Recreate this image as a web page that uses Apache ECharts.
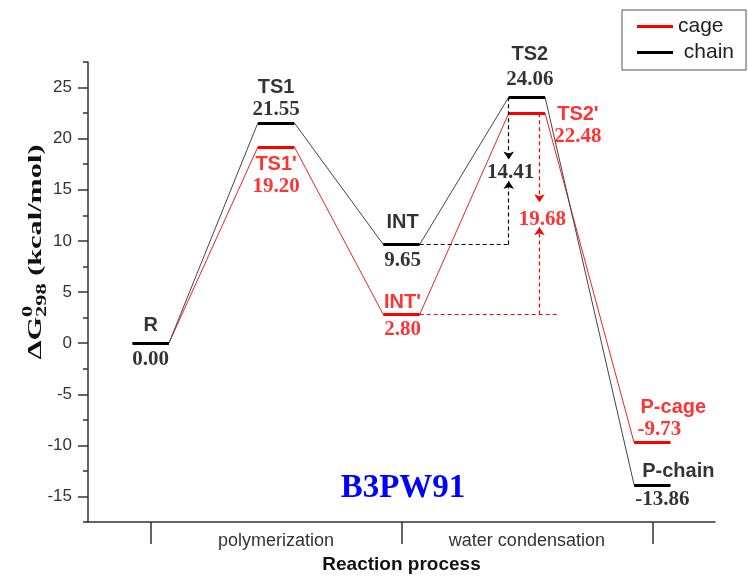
<!DOCTYPE html>
<html><head><meta charset="utf-8">
<script src="https://cdn.jsdelivr.net/npm/echarts@6/dist/echarts.min.js"></script>
<style>html,body{margin:0;padding:0;background:#fff}#c{width:748px;height:579px}</style>
</head><body><div id="c"></div>
<script>
// ---------- data ----------
const stagePos = [1, 2, 3, 4, 5];
const chainNames = ['R', 'TS1', 'INT', 'TS2', 'P-chain'];
const cageNames = ['R', "TS1'", "INT'", "TS2'", 'P-cage'];
const chainValues = [0.00, 21.55, 9.65, 24.06, -13.86];
const cageValues = [0.00, 19.20, 2.80, 22.48, -9.73];
const yMajorTicks = [-15, -10, -5, 0, 5, 10, 15, 20, 25];
const yMinorTicks = [-17.5, -12.5, -7.5, -2.5, 2.5, 7.5, 12.5, 17.5, 22.5, 27.5];
const xTickValues = [1, 3, 5];
const xLabelValues = [2, 4];
const xLabels = ['polymerization', 'water condensation'];
const chainBarrier = 14.41; // INT -> TS2
const cageBarrier = 19.68;  // INT' -> TS2'

// ---------- styling constants ----------
const H = 0.145; // half width of a level
const SANS = 'Liberation Sans', SERIF = 'Liberation Serif';
const RED = '#ff0000', BLACK = '#000000';

function levelCoords(vals, from) {
  const out = [];
  for (let i = from; i < vals.length; i++) out.push({coords: [[stagePos[i] - H, vals[i]], [stagePos[i] + H, vals[i]]]});
  return out;
}
function pathPoints(vals) {
  const out = [];
  vals.forEach((v, i) => { out.push([stagePos[i] - H, v]); out.push([stagePos[i] + H, v]); });
  return out;
}
// label offsets [dx,dy] in pixels relative to level centre
const chainLabelOff = [
  {n: [0, -18], v: [0, 16]},
  {n: [0, -35], v: [0, -13]},
  {n: [1, -22], v: [1, 16]},
  {n: [3, -43], v: [3, -18]},
  {n: [26, -13], v: [10, 15]}
];
const cageLabelOff = [
  null,
  {n: [0, 18], v: [0, 40]},
  {n: [1, -12], v: [1, 15]},
  {n: [51, 1], v: [51, 23]},
  {n: [21, -35], v: [7, -13]}
];
function labelItems(names, vals, offs, color) {
  const items = [];
  vals.forEach((v, i) => {
    const o = offs[i];
    if (!o) return;
    items.push({value: [stagePos[i], v], label: {formatter: names[i], offset: o.n, color, fontFamily: SANS, fontWeight: 'bold', fontSize: 20}});
    items.push({value: [stagePos[i], v], label: {formatter: v.toFixed(2), offset: o.v, color, fontFamily: SERIF, fontWeight: 'bold', fontSize: 21}});
  });
  return items;
}

// barrier arrows (INT -> TS2)
const chainArrowX = stagePos[3] - H;
const cageArrowX = stagePos[3] + 0.1;
const cageHorizEnd = stagePos[3] + 0.25;
const chainMid = (chainValues[2] + chainValues[3]) / 2;
const cageMid = (cageValues[2] + cageValues[3]) / 2;

const chart = echarts.init(document.getElementById('c'), null, {renderer: 'canvas'});

// y-axis name measured
const cvs = document.createElement('canvas').getContext('2d');
function tw(t, f) { cvs.font = f; return cvs.measureText(t).width; }
const fMain = 'bold 19px "' + SERIF + '"', fSmall = 'bold 14px "' + SERIF + '"';
const wDG = tw('ΔG', fMain), wSub = tw('298', fSmall), wRest = tw(' (kcal/mol)', fMain);
const W = wDG + wSub + wRest;
const x0 = -W / 2;
const stretch = 215 / W;

const option = {
  animation: false,
  backgroundColor: '#fff',
  grid: {left: 88, right: 33, top: 62, bottom: 50, containLabel: false},
  legend: {
    data: [{name: 'cage', itemStyle: {color: RED}}, {name: 'chain', itemStyle: {color: BLACK}}],
    orient: 'vertical', left: 622, top: 10,
    icon: 'rect', itemWidth: 36, itemHeight: 3, itemGap: 5,
    padding: [6, 12, 7, 15], borderColor: '#555', borderWidth: 1,
    textStyle: {fontFamily: SANS, fontSize: 21, color: '#222'},
    formatter: n => n === 'chain' ? ' chain' : n
  },
  xAxis: {
    type: 'value', min: 0.5, max: 5.5,
    axisLine: {onZero: false, lineStyle: {color: '#333', width: 1.5}},
    axisTick: {show: true, inside: false, length: 22, customValues: xTickValues, lineStyle: {color: '#333', width: 1.5}},
    axisLabel: {customValues: xLabelValues, formatter: v => xLabels[xLabelValues.indexOf(v)] || '', margin: 10,
      fontFamily: SANS, fontSize: 18, color: '#333'},
    splitLine: {show: false},
    name: 'Reaction process', nameLocation: 'middle', nameGap: 32,
    nameTextStyle: {fontFamily: SANS, fontWeight: 'bold', fontSize: 19, color: '#111'}
  },
  yAxis: [{
    type: 'value', min: -17.5, max: 27.5, position: 'left',
    axisLine: {show: true, onZero: false, lineStyle: {color: '#333', width: 1.5}},
    axisTick: {show: true, inside: false, length: 10, customValues: yMajorTicks, lineStyle: {color: '#333', width: 1.5}},
    axisLabel: {customValues: yMajorTicks, margin: 16, fontFamily: SANS, fontSize: 17, color: '#333'},
    splitLine: {show: false}
  }, {
    type: 'value', min: -17.5, max: 27.5, position: 'left',
    axisLine: {show: false, onZero: false},
    axisTick: {show: true, inside: false, length: 5, customValues: yMinorTicks, lineStyle: {color: '#333', width: 1.5}},
    axisLabel: {show: false},
    splitLine: {show: false}
  }],
  graphic: [
    {type: 'text', x: 403, y: 488, style: {text: 'B3PW91', font: 'bold 33px "' + SERIF + '"', fill: '#0000ff', align: 'center', verticalAlign: 'middle'}},
    {type: 'group', x: 36, y: 252, rotation: Math.PI / 2, scaleX: stretch, children: [
      {type: 'text', x: x0, y: 0, style: {text: 'ΔG', font: fMain, fill: '#111', align: 'left', verticalAlign: 'middle'}},
      {type: 'text', x: x0 + wDG, y: -8, style: {text: '0', font: fSmall, fill: '#111', align: 'left', verticalAlign: 'middle'}},
      {type: 'text', x: x0 + wDG, y: 6, style: {text: '298', font: fSmall, fill: '#111', align: 'left', verticalAlign: 'middle'}},
      {type: 'text', x: x0 + wDG + wSub, y: 0, style: {text: ' (kcal/mol)', font: fMain, fill: '#111', align: 'left', verticalAlign: 'middle'}}
    ]}
  ],
  series: [
    {name: 'cage', type: 'line', data: pathPoints(cageValues), showSymbol: false, symbol: 'none',
      lineStyle: {color: '#ee2222', width: 1}, itemStyle: {color: RED}, z: 2},
    {name: 'chain', type: 'line', data: pathPoints(chainValues), showSymbol: false, symbol: 'none',
      lineStyle: {color: '#444', width: 1}, itemStyle: {color: BLACK}, z: 3},
    {type: 'lines', coordinateSystem: 'cartesian2d', data: levelCoords(cageValues, 1),
      lineStyle: {color: RED, width: 3, opacity: 1}, z: 4},
    {type: 'lines', coordinateSystem: 'cartesian2d', data: levelCoords(chainValues, 0),
      lineStyle: {color: BLACK, width: 3, opacity: 1}, z: 5},
    // dashed guides
    {type: 'lines', coordinateSystem: 'cartesian2d', z: 6,
      data: [{coords: [[stagePos[2] + H, chainValues[2]], [chainArrowX, chainValues[2]]]}],
      lineStyle: {color: BLACK, width: 1.2, type: [4, 3], opacity: 1}},
    {type: 'lines', coordinateSystem: 'cartesian2d', z: 6,
      data: [{coords: [[stagePos[2] + H, cageValues[2]], [cageHorizEnd, cageValues[2]]]}],
      lineStyle: {color: RED, width: 1.2, type: [4, 3], opacity: 1}},
    {type: 'lines', coordinateSystem: 'cartesian2d', z: 6, symbol: ['none', 'arrow'], symbolSize: 8,
      data: [
        {coords: [[chainArrowX, chainValues[2]], [chainArrowX, chainMid - 1.0]]},
        {coords: [[chainArrowX, chainValues[3]], [chainArrowX, chainMid + 1.1]]}
      ],
      lineStyle: {color: BLACK, width: 1.2, type: [4, 3], opacity: 1}},
    {type: 'lines', coordinateSystem: 'cartesian2d', z: 6, symbol: ['none', 'arrow'], symbolSize: 8,
      data: [
        {coords: [[cageArrowX, cageValues[2]], [cageArrowX, cageMid - 1.3]]},
        {coords: [[cageArrowX, cageValues[3]], [cageArrowX, cageMid + 1.15]]}
      ],
      lineStyle: {color: RED, width: 1.2, type: [4, 3], opacity: 1}},
    // labels
    {type: 'scatter', symbolSize: 0, z: 10, silent: true,
      label: {show: true, position: 'inside', align: 'center', verticalAlign: 'middle'},
      data: labelItems(chainNames, chainValues, chainLabelOff, BLACK)
        .concat(labelItems(cageNames, cageValues, cageLabelOff, RED))
        .concat([
          {value: [chainArrowX, chainMid], label: {formatter: chainBarrier.toFixed(2), offset: [2, 2], color: BLACK, fontFamily: SERIF, fontWeight: 'bold', fontSize: 21}},
          {value: [cageArrowX, cageMid], label: {formatter: cageBarrier.toFixed(2), offset: [3, 6], color: RED, fontFamily: SERIF, fontWeight: 'bold', fontSize: 21}}
        ])
    }
  ]
};
chart.setOption(option);
</script></body></html>
